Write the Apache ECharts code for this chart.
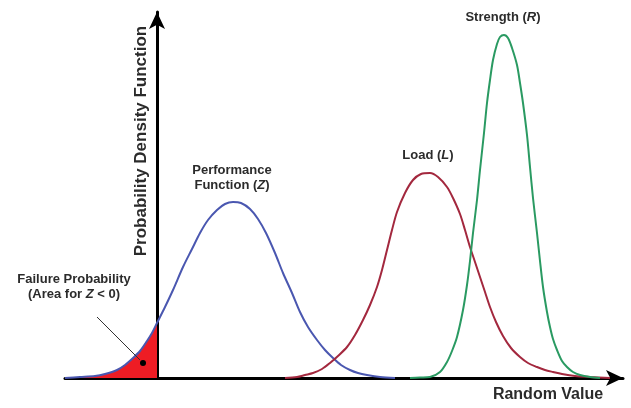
<!DOCTYPE html>
<html>
<head>
<meta charset="utf-8">
<script src="https://cdn.jsdelivr.net/npm/echarts@6/dist/echarts.min.js"></script>
<style>html,body{margin:0;padding:0;background:#fff}#c{width:631px;height:408px}</style>
</head>
<body>
<div id="c"></div>
<script>
// Performance function Z (blue)
const zX = [-92, -77, -62, -52, -40, -32, -24, -17, -10, -5, 0, 8, 16, 26, 35, 43, 51, 60, 68, 76, 84, 93, 101, 109, 118, 126, 135, 143, 151, 160, 168, 176, 184, 193, 201, 210, 223, 238];
const zY = [0, 1, 2, 4, 8, 13, 20, 27, 37, 45, 55, 71, 88, 111, 129, 145, 158, 168, 174, 176, 175, 169, 159, 145, 125, 105, 85, 66, 51, 38, 28, 20, 13, 8, 5, 3, 1, 0];
// Load L (maroon)
const lX = [128, 140, 148, 156, 165, 173, 181, 190, 198, 206, 213, 220, 225, 230, 235, 240, 248, 256, 264, 273, 281, 290, 296, 303, 308, 313, 318, 323, 328, 333, 339, 346, 354, 363, 371, 380, 388, 396, 405, 418, 433, 453];
const lY = [0, 1, 3, 5, 9, 15, 22, 31, 43, 58, 73, 91, 108, 128, 148, 166, 185, 198, 204, 205, 201, 191, 180, 164, 148, 131, 116, 101, 86, 71, 56, 42, 30, 21, 15, 11, 8, 6, 4, 2, 1, 0];
// Strength R (green)
const rX = [253, 263, 273, 283, 290, 295, 300, 306, 310, 313, 316, 320, 323, 327, 330, 333, 336, 340, 343, 347, 351, 355, 360, 363, 366, 370, 373, 376, 380, 383, 386, 390, 393, 396, 400, 405, 410, 416, 423, 433, 443];
const rY = [0, 0.5, 1, 6, 16, 27, 41, 68, 93, 117, 145, 178, 208, 245, 275, 298, 318, 334, 341, 343, 340, 330, 313, 295, 275, 243, 211, 180, 145, 117, 91, 66, 51, 39, 28, 17, 11, 6, 3, 1, 0];

const pairs = (xs, ys) => xs.map((x, i) => [x, ys[i]]);
const failData = pairs(zX, zY).filter(p => p[0] <= 0);

const FONT = '"Liberation Sans", Arial, sans-serif';
const chart = echarts.init(document.getElementById('c'), null, {renderer: 'canvas'});
function txt(text, x, y, size, rot) {
  return {
    type: 'text', x: x, y: y, rotation: rot || 0, z: 100,
    style: {
      text: text, fill: '#2b2b2b', font: 'bold ' + size + 'px ' + FONT,
      align: 'center', verticalAlign: 'middle', textAlign: 'center', textVerticalAlign: 'middle',
      rich: { i: { fontStyle: 'italic', fontWeight: 'bold', fontSize: size, fontFamily: FONT, fill: '#2b2b2b' } }
    }
  };
}
chart.setOption({
  animation: false,
  backgroundColor: '#ffffff',
  grid: { left: 65, right: 8, top: 12, bottom: 30, containLabel: false },
  xAxis: {
    type: 'value', min: -92, max: 466,
    axisLine: { show: true, onZero: true, symbol: ['none', 'arrow'], symbolSize: [12, 17], lineStyle: { color: '#000', width: 3 } },
    axisTick: { show: false }, axisLabel: { show: false }, splitLine: { show: false }
  },
  yAxis: {
    type: 'value', min: 0, max: 366,
    axisLine: { show: true, onZero: true, symbol: ['none', 'arrow'], symbolSize: [12, 17], lineStyle: { color: '#000', width: 3 } },
    axisTick: { show: false }, axisLabel: { show: false }, splitLine: { show: false }
  },
  series: [
    { type: 'line', data: failData, smooth: 0.3, showSymbol: false, z: 1,
      lineStyle: { width: 0 }, areaStyle: { color: '#ee1c24', opacity: 1 } },
    { type: 'line', data: pairs(zX, zY), smooth: 0.3, showSymbol: false, z: 3,
      lineStyle: { color: '#4a57b0', width: 2 } },
    { type: 'line', data: pairs(lX, lY), smooth: 0.3, showSymbol: false, z: 3,
      lineStyle: { color: '#a3283e', width: 2 } },
    { type: 'line', data: pairs(rX, rY), smooth: 0.3, showSymbol: false, z: 3,
      lineStyle: { color: '#2a9a62', width: 2 } }
  ],
  graphic: [
    txt('Probability Density Function', 141, 141, 17, Math.PI / 2),
    txt('Performance', 232, 170, 13),
    txt('Function ({i|Z})', 232, 185, 13),
    txt('Load ({i|L})', 428, 155, 13),
    txt('Strength ({i|R})', 503, 17, 13),
    txt('Failure Probability', 74, 279, 13),
    txt('(Area for {i|Z} < 0)', 74, 294, 13),
    txt('Random Value', 548, 395, 16),
    { type: 'line', z: 100, shape: { x1: 97, y1: 317, x2: 140, y2: 360 }, style: { stroke: '#333', lineWidth: 1 } },
    { type: 'circle', z: 100, shape: { cx: 143, cy: 363, r: 3 }, style: { fill: '#000' } }
  ]
});
</script>
</body>
</html>
